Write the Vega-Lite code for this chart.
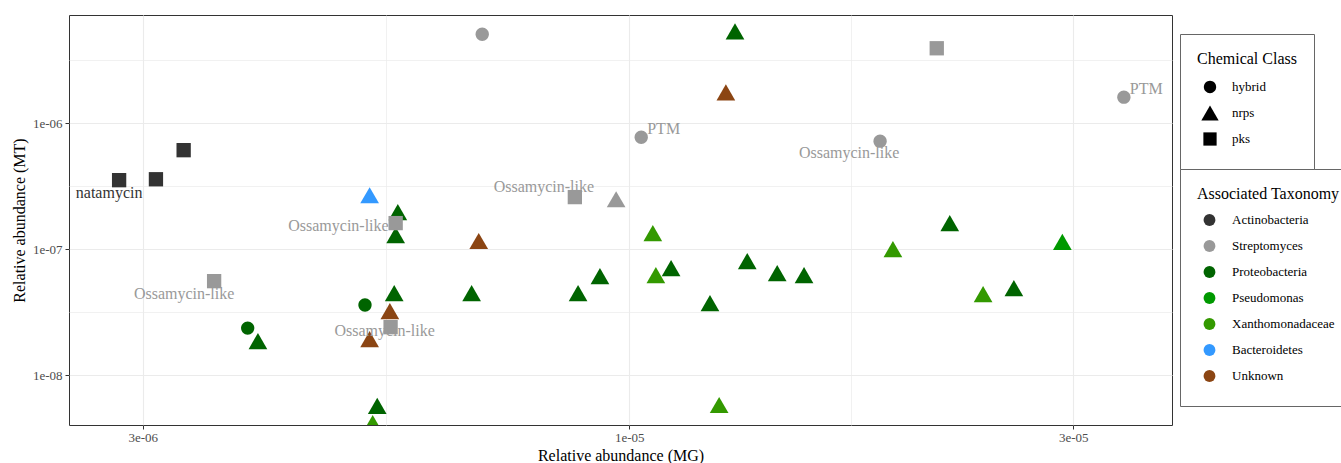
{
  "$schema": "https://vega.github.io/schema/vega-lite/v6.json",
  "width": 1103,
  "height": 410,
  "autosize": "none",
  "padding": {"left": 69, "top": 15, "right": 169, "bottom": 38},
  "background": "white",
  "config": {
    "font": "Liberation Serif",
    "view": {"stroke": "#333333", "strokeWidth": 1},
    "axis": {
      "domain": false,
      "grid": true,
      "gridColor": "#EBEBEB",
      "labelFont": "Liberation Serif",
      "labelFontSize": 13,
      "labelColor": "#4D4D4D",
      "labelFlush": false,
      "labelOverlap": false,
      "tickColor": "#333333",
      "tickSize": 4,
      "tickWidth": 1,
      "titleFont": "Liberation Serif",
      "titleFontSize": 16,
      "titleFontWeight": "normal",
      "titleColor": "#000000"
    },
    "legend": {
      "labelFont": "Liberation Serif",
      "labelFontSize": 13,
      "labelColor": "#000000",
      "titleFont": "Liberation Serif",
      "titleFontSize": 16,
      "titleFontWeight": "normal",
      "titleColor": "#000000"
    }
  },
  "data": {
    "values": [
      {"mg": 2.83e-6, "mt": 3.53e-7, "class": "pks", "taxonomy": "Actinobacteria", "label": "natamycin"},
      {"mg": 3.10e-6, "mt": 3.59e-7, "class": "pks", "taxonomy": "Actinobacteria"},
      {"mg": 3.32e-6, "mt": 6.11e-7, "class": "pks", "taxonomy": "Actinobacteria"},
      {"mg": 3.89e-6, "mt": 2.36e-8, "class": "hybrid", "taxonomy": "Proteobacteria"},
      {"mg": 3.99e-6, "mt": 1.86e-8, "class": "nrps", "taxonomy": "Proteobacteria"},
      {"mg": 5.20e-6, "mt": 3.60e-8, "class": "hybrid", "taxonomy": "Proteobacteria"},
      {"mg": 5.64e-6, "mt": 1.97e-7, "class": "nrps", "taxonomy": "Proteobacteria"},
      {"mg": 5.61e-6, "mt": 1.29e-7, "class": "nrps", "taxonomy": "Proteobacteria"},
      {"mg": 5.59e-6, "mt": 4.48e-8, "class": "nrps", "taxonomy": "Proteobacteria"},
      {"mg": 6.77e-6, "mt": 4.48e-8, "class": "nrps", "taxonomy": "Proteobacteria"},
      {"mg": 5.36e-6, "mt": 5.68e-9, "class": "nrps", "taxonomy": "Proteobacteria"},
      {"mg": 8.81e-6, "mt": 4.48e-8, "class": "nrps", "taxonomy": "Proteobacteria"},
      {"mg": 9.30e-6, "mt": 6.11e-8, "class": "nrps", "taxonomy": "Proteobacteria"},
      {"mg": 1.109e-5, "mt": 7.07e-8, "class": "nrps", "taxonomy": "Proteobacteria"},
      {"mg": 1.221e-5, "mt": 3.73e-8, "class": "nrps", "taxonomy": "Proteobacteria"},
      {"mg": 1.339e-5, "mt": 8.04e-8, "class": "nrps", "taxonomy": "Proteobacteria"},
      {"mg": 1.442e-5, "mt": 6.45e-8, "class": "nrps", "taxonomy": "Proteobacteria"},
      {"mg": 1.541e-5, "mt": 6.22e-8, "class": "nrps", "taxonomy": "Proteobacteria"},
      {"mg": 1.299e-5, "mt": 5.37e-6, "class": "nrps", "taxonomy": "Proteobacteria"},
      {"mg": 2.21e-5, "mt": 1.61e-7, "class": "nrps", "taxonomy": "Proteobacteria"},
      {"mg": 2.59e-5, "mt": 4.90e-8, "class": "nrps", "taxonomy": "Proteobacteria"},
      {"mg": 2.92e-5, "mt": 1.14e-7, "class": "nrps", "taxonomy": "Pseudomonas"},
      {"mg": 1.060e-5, "mt": 1.34e-7, "class": "nrps", "taxonomy": "Xanthomonadaceae"},
      {"mg": 1.068e-5, "mt": 6.22e-8, "class": "nrps", "taxonomy": "Xanthomonadaceae"},
      {"mg": 1.249e-5, "mt": 5.78e-9, "class": "nrps", "taxonomy": "Xanthomonadaceae"},
      {"mg": 1.92e-5, "mt": 1.0e-7, "class": "nrps", "taxonomy": "Xanthomonadaceae"},
      {"mg": 2.40e-5, "mt": 4.39e-8, "class": "nrps", "taxonomy": "Xanthomonadaceae"},
      {"mg": 5.30e-6, "mt": 4.15e-9, "class": "nrps", "taxonomy": "Xanthomonadaceae"},
      {"mg": 5.26e-6, "mt": 2.68e-7, "class": "nrps", "taxonomy": "Bacteroidetes"},
      {"mg": 1.27e-5, "mt": 1.76e-6, "class": "nrps", "taxonomy": "Unknown"},
      {"mg": 6.89e-6, "mt": 1.16e-7, "class": "nrps", "taxonomy": "Unknown"},
      {"mg": 5.53e-6, "mt": 3.22e-8, "class": "nrps", "taxonomy": "Unknown"},
      {"mg": 5.26e-6, "mt": 1.93e-8, "class": "nrps", "taxonomy": "Unknown"},
      {"mg": 6.95e-6, "mt": 5.09e-6, "class": "hybrid", "taxonomy": "Streptomyces"},
      {"mg": 2.14e-5, "mt": 3.94e-6, "class": "pks", "taxonomy": "Streptomyces"},
      {"mg": 3.40e-5, "mt": 1.61e-6, "class": "hybrid", "taxonomy": "Streptomyces", "label": "PTM"},
      {"mg": 1.03e-5, "mt": 7.74e-7, "class": "hybrid", "taxonomy": "Streptomyces", "label": "PTM"},
      {"mg": 1.86e-5, "mt": 7.20e-7, "class": "hybrid", "taxonomy": "Streptomyces", "label": "Ossamycin-like"},
      {"mg": 8.74e-6, "mt": 2.59e-7, "class": "pks", "taxonomy": "Streptomyces", "label": "Ossamycin-like"},
      {"mg": 9.68e-6, "mt": 2.49e-7, "class": "nrps", "taxonomy": "Streptomyces"},
      {"mg": 5.61e-6, "mt": 1.61e-7, "class": "pks", "taxonomy": "Streptomyces", "label": "Ossamycin-like"},
      {"mg": 3.58e-6, "mt": 5.57e-8, "class": "pks", "taxonomy": "Streptomyces", "label": "Ossamycin-like"},
      {"mg": 5.54e-6, "mt": 2.40e-8, "class": "pks", "taxonomy": "Streptomyces", "label": "Ossamycin-like"}
    ]
  },
  "encoding": {
    "x": {
      "field": "mg",
      "type": "quantitative",
      "scale": {"type": "log", "domain": [2.5e-6, 3.83e-5], "nice": false},
      "axis": {
        "title": "Relative abundance (MG)",
        "values": [3e-6, 5.477e-6, 1e-5, 1.732e-5, 3e-5],
        "labelExpr": "indexof([3e-6, 1e-5, 3e-5], datum.value) >= 0 ? replace(format(datum.value, '.0e'), 'e-', 'e-0') : ''",
        "tickOpacity": {"condition": {"test": "indexof([3e-6, 1e-5, 3e-5], datum.value) < 0", "value": 0}, "value": 1},
        "gridWidth": {"condition": {"test": "indexof([3e-6, 1e-5, 3e-5], datum.value) < 0", "value": 0.7}, "value": 1.1},
        "labelPadding": 2,
        "titlePadding": 3
      }
    },
    "y": {
      "field": "mt",
      "type": "quantitative",
      "scale": {"type": "log", "domain": [4.01e-9, 7.24e-6], "nice": false},
      "axis": {
        "title": "Relative abundance (MT)",
        "values": [1e-8, 3.162e-8, 1e-7, 3.162e-7, 1e-6, 3.162e-6],
        "labelExpr": "indexof([1e-8, 1e-7, 1e-6], datum.value) >= 0 ? replace(format(datum.value, '.0e'), 'e-', 'e-0') : ''",
        "tickOpacity": {"condition": {"test": "indexof([1e-8, 1e-7, 1e-6], datum.value) < 0", "value": 0}, "value": 1},
        "gridWidth": {"condition": {"test": "indexof([1e-8, 1e-7, 1e-6], datum.value) < 0", "value": 0.7}, "value": 1.1},
        "labelPadding": 3,
        "titlePadding": 5
      }
    }
  },
  "layer": [
    {
      "mark": {"type": "point", "filled": true, "opacity": 1, "strokeWidth": 0, "size": 350, "clip": true},
      "encoding": {
        "shape": {
          "field": "class",
          "type": "nominal",
          "scale": {
            "domain": ["hybrid", "nrps", "pks"],
            "range": [
              "M0.711,0A0.711,0.711,0,1,1,-0.711,0A0.711,0.711,0,1,1,0.711,0Z",
              "M0,-0.866L1,0.866L-1,0.866Z",
              "M-0.765,-0.765L0.765,-0.765L0.765,0.765L-0.765,0.765Z"
            ]
          },
          "legend": {
            "title": "Chemical Class",
            "orient": "none",
            "legendX": 1111,
            "legendY": 19,
            "padding": 17,
            "strokeColor": "#666666",
            "fillColor": "white",
            "symbolSize": 300,
            "symbolFillColor": "black",
            "symbolStrokeWidth": 0,
            "symbolOffset": 4,
            "clipHeight": 26,
            "rowPadding": 0,
            "titlePadding": 7,
            "labelOffset": 13
          }
        },
        "color": {
          "field": "taxonomy",
          "type": "nominal",
          "scale": {
            "domain": ["Actinobacteria", "Streptomyces", "Proteobacteria", "Pseudomonas", "Xanthomonadaceae", "Bacteroidetes", "Unknown"],
            "range": ["#333333", "#999999", "#006400", "#009900", "#339900", "#3399FF", "#8B4513"]
          },
          "legend": {
            "title": "Associated Taxonomy",
            "orient": "none",
            "legendX": 1111,
            "legendY": 154,
            "padding": 17,
            "strokeColor": "#666666",
            "fillColor": "white",
            "symbolType": "circle",
            "symbolSize": 140,
            "symbolStrokeWidth": 0,
            "symbolOffset": 6,
            "clipHeight": 26,
            "rowPadding": 0,
            "titlePadding": 5,
            "labelOffset": 16
          }
        }
      }
    },
    {
      "transform": [{"filter": "datum.label === 'natamycin'"}],
      "mark": {"type": "text", "font": "Liberation Serif", "fontSize": 16, "color": "#333333", "align": "center", "baseline": "middle", "dx": -10, "dy": 13},
      "encoding": {"text": {"field": "label"}}
    },
    {
      "transform": [{"filter": "datum.label === 'PTM'"}],
      "mark": {"type": "text", "font": "Liberation Serif", "fontSize": 16, "color": "#999999", "align": "left", "baseline": "middle", "dx": 6, "dy": -8},
      "encoding": {"text": {"field": "label"}}
    },
    {
      "transform": [{"filter": "datum.label === 'Ossamycin-like' && datum.mg === 3.58e-6"}],
      "mark": {"type": "text", "font": "Liberation Serif", "fontSize": 16, "color": "#999999", "align": "center", "baseline": "middle", "dx": -30, "dy": 13},
      "encoding": {"text": {"field": "label"}}
    },
    {
      "transform": [{"filter": "datum.label === 'Ossamycin-like' && datum.mg === 5.61e-6"}],
      "mark": {"type": "text", "font": "Liberation Serif", "fontSize": 16, "color": "#999999", "align": "right", "baseline": "middle", "dx": -7, "dy": 3},
      "encoding": {"text": {"field": "label"}}
    },
    {
      "transform": [{"filter": "datum.label === 'Ossamycin-like' && datum.mg === 8.74e-6"}],
      "mark": {"type": "text", "font": "Liberation Serif", "fontSize": 16, "color": "#999999", "align": "center", "baseline": "middle", "dx": -31, "dy": -10},
      "encoding": {"text": {"field": "label"}}
    },
    {
      "transform": [{"filter": "datum.label === 'Ossamycin-like' && datum.mg === 1.86e-5"}],
      "mark": {"type": "text", "font": "Liberation Serif", "fontSize": 16, "color": "#999999", "align": "center", "baseline": "middle", "dx": -31, "dy": 12},
      "encoding": {"text": {"field": "label"}}
    },
    {
      "transform": [{"filter": "datum.label === 'Ossamycin-like' && datum.mg === 5.54e-6"}],
      "mark": {"type": "text", "font": "Liberation Serif", "fontSize": 16, "color": "#999999", "align": "center", "baseline": "middle", "dx": -6, "dy": 4},
      "encoding": {"text": {"field": "label"}}
    }
  ]
}
